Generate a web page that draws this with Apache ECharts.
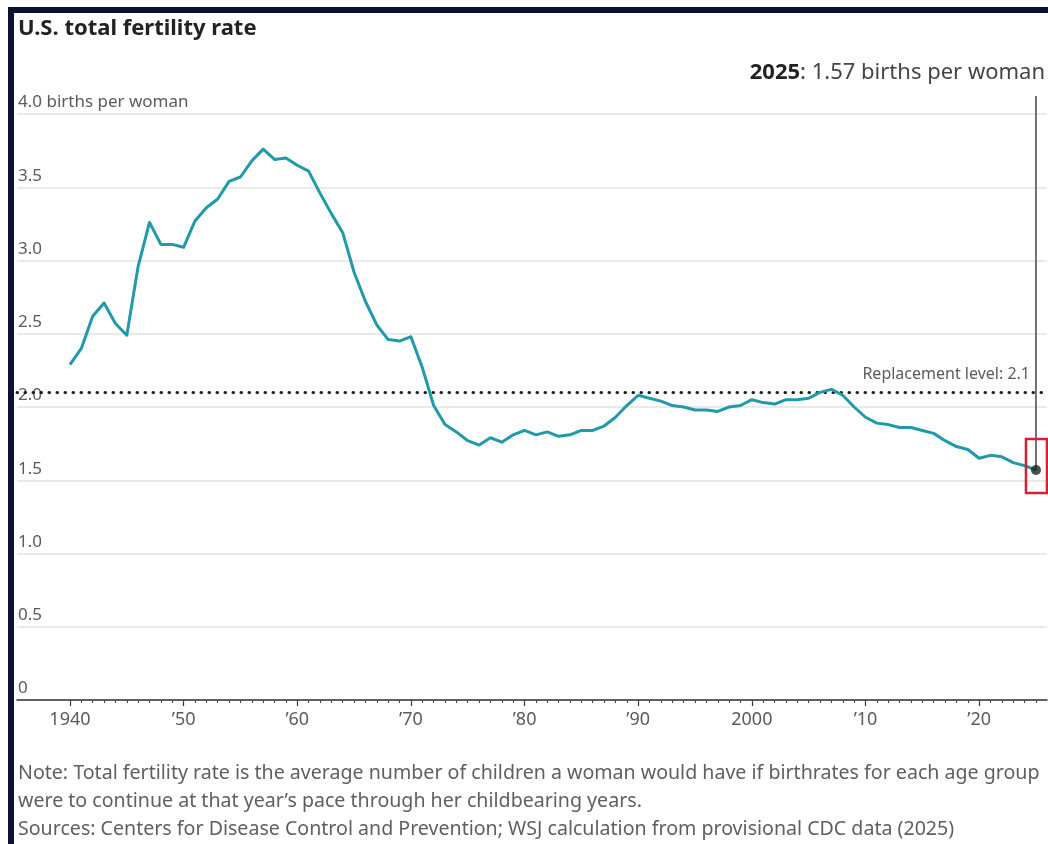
<!DOCTYPE html>
<html>
<head>
<meta charset="utf-8">
<title>U.S. total fertility rate</title>
<script src="https://cdn.jsdelivr.net/npm/echarts@6/dist/echarts.min.js"></script>
<style>
  html, body { margin: 0; padding: 0; background: #ffffff; }
  #chart { width: 1048px; height: 844px; }
</style>
</head>
<body>
<div id="chart"></div>
<script>
// Total fertility rate, births per woman, one value per year from 1940
const firstYear = 1940;
const fertility = [
  2.29, 2.40, 2.62, 2.71, 2.57, 2.49, 2.96, 3.26, 3.11, 3.11, // 1940s
  3.09, 3.27, 3.36, 3.42, 3.54, 3.57, 3.68, 3.76, 3.69, 3.70, // 1950s
  3.65, 3.61, 3.46, 3.32, 3.19, 2.92, 2.72, 2.56, 2.46, 2.45, // 1960s
  2.48, 2.27, 2.01, 1.88, 1.83, 1.77, 1.74, 1.79, 1.76, 1.81, // 1970s
  1.84, 1.81, 1.83, 1.80, 1.81, 1.84, 1.84, 1.87, 1.93, 2.01, // 1980s
  2.08, 2.06, 2.04, 2.01, 2.00, 1.98, 1.98, 1.97, 2.00, 2.01, // 1990s
  2.05, 2.03, 2.02, 2.05, 2.05, 2.06, 2.10, 2.12, 2.08, 2.00, // 2000s
  1.93, 1.89, 1.88, 1.86, 1.86, 1.84, 1.82, 1.77, 1.73, 1.71, // 2010s
  1.65, 1.67, 1.66, 1.62, 1.60, 1.57                          // 2020s
];

// Axis ticks and labels
const decadeTicks = [1940, 1950, 1960, 1970, 1980, 1990, 2000, 2010, 2020];
const decadeLabels = ['1940', '\u201950', '\u201960', '\u201970', '\u201980', '\u201990', '2000', '\u201910', '\u201920'];
const yTickValues = [0, 0.5, 1, 1.5, 2, 2.5, 3, 3.5, 4];
const yTickLabels = ['0', '0.5', '1.0', '1.5', '2.0', '2.5', '3.0', '3.5', '4.0 births per woman'];

// Reference line and highlighted latest value
const replacementLevel = 2.1;
const latestYear = 2025;
const latestValue = 1.57;

const years = fertility.map((_, i) => firstYear + i);
const seriesData = fertility.map((v, i) => [years[i], v]);

const TEAL = '#2099aa';
const GRAY_TEXT = '#5b5b5b';
const SANS = '"Noto Sans", "Open Sans", sans-serif';

const GRID_TOP = 114;
const GRID_HEIGHT = 586;
const X_MIN = 1935.34;
const X_MAX = 2025.97;

const chart = echarts.init(document.getElementById('chart'), null, { renderer: 'canvas' });

const option = {
  animation: false,
  backgroundColor: '#ffffff',
  grid: { left: 17, width: 1030, top: GRID_TOP, height: GRID_HEIGHT, containLabel: false },
  xAxis: [
    {
      // decade ticks and labels along the baseline
      type: 'value',
      min: X_MIN,
      max: X_MAX,
      axisLine: { show: true, lineStyle: { color: '#333333', width: 1.5 } },
      axisTick: {
        show: true, customValues: decadeTicks, length: 6,
        lineStyle: { color: '#333333', width: 1.2 }
      },
      axisLabel: {
        show: true, customValues: decadeTicks, margin: 11,
        color: GRAY_TEXT, fontFamily: SANS, fontSize: 18,
        formatter: (v) => decadeLabels[decadeTicks.indexOf(v)]
      },
      splitLine: { show: false }
    },
    {
      // yearly ticks, moved down onto the baseline
      type: 'value',
      position: 'top',
      offset: -GRID_HEIGHT,
      min: X_MIN,
      max: X_MAX,
      axisLine: { show: false },
      axisTick: {
        show: true, inside: true, customValues: years, length: 3,
        lineStyle: { color: '#444444', width: 1 }
      },
      axisLabel: { show: false },
      splitLine: { show: false }
    }
  ],
  yAxis: {
    type: 'value',
    min: 0,
    max: 4,
    interval: 0.5,
    axisLine: { show: false },
    axisTick: { show: false },
    splitLine: { show: true, lineStyle: { color: '#e3e3e3', width: 1.5 } },
    axisLabel: {
      inside: true,
      margin: 1,
      verticalAlign: 'bottom',
      padding: [0, 0, 3, 0],
      color: GRAY_TEXT,
      fontFamily: SANS,
      fontSize: 17,
      formatter: (v) => {
        const i = yTickValues.findIndex((t) => Math.abs(t - v) < 1e-6);
        return i >= 0 ? yTickLabels[i] : '';
      }
    }
  },
  series: [
    {
      type: 'line',
      data: seriesData,
      showSymbol: false,
      symbol: 'none',
      lineStyle: { color: TEAL, width: 3, join: 'round' },
      z: 3,
      markLine: {
        silent: true,
        symbol: ['none', 'none'],
        data: [{ yAxis: replacementLevel }],
        lineStyle: { color: '#1a1a1a', width: 3, type: [0.5, 7.5], cap: 'round' },
        label: {
          show: true,
          position: 'insideEndTop',
          distance: [17, 10],
          formatter: 'Replacement level: 2.1',
          color: GRAY_TEXT,
          fontFamily: SANS,
          fontSize: 16
        },
        z: 2
      }
    },
    {
      type: 'scatter',
      data: [[latestYear, latestValue]],
      symbol: 'circle',
      symbolSize: 10,
      itemStyle: { color: '#222222' },
      z: 5
    }
  ],
  graphic: []
};

chart.setOption(option);

// Annotations positioned from the axes' own scales
const pt = chart.convertToPixel({ seriesIndex: 0 }, [latestYear, latestValue]);
const topY = 96;

chart.setOption({
  graphic: [
    // frame
    { type: 'rect', shape: { x: 8, y: 7, width: 1040, height: 6 }, style: { fill: '#0b1233' }, z: 10 },
    { type: 'rect', shape: { x: 8, y: 7, width: 6, height: 837 }, style: { fill: '#0b1233' }, z: 10 },
    // title
    {
      type: 'text', left: 18, top: 18,
      style: { text: 'U.S. total fertility rate', fill: '#222222', font: 'bold 22px ' + SANS }
    },
    // latest value callout
    {
      type: 'text', z: 10,
      style: {
        x: 1045, y: 73, align: 'right', verticalAlign: 'middle',
        text: '{b|2025}{r|: 1.57 births per woman}',
        rich: {
          b: { fontFamily: SANS, fontSize: 22, fontWeight: 'bold', fill: '#222222' },
          r: { fontFamily: SANS, fontSize: 22, fill: '#444444' }
        }
      }
    },
    {
      type: 'line', z: 4,
      shape: { x1: pt[0], y1: topY, x2: pt[0], y2: pt[1] },
      style: { stroke: '#444444', lineWidth: 1.5 }
    },
    {
      type: 'rect', z: 6,
      shape: { x: pt[0] - 10, y: pt[1] - 31, width: 21, height: 54 },
      style: { fill: 'none', stroke: '#d42030', lineWidth: 2.5 }
    },
    // notes
    {
      type: 'text', left: 18, top: 759,
      style: {
        text: 'Note: Total fertility rate is the average number of children a woman would have if birthrates for each age group\nwere to continue at that year\u2019s pace through her childbearing years.\nSources: Centers for Disease Control and Prevention; WSJ calculation from provisional CDC data (2025)',
        fill: '#5f5f5f', font: '19.6px ' + SANS, lineHeight: 28
      }
    }
  ]
});
</script>
</body>
</html>
